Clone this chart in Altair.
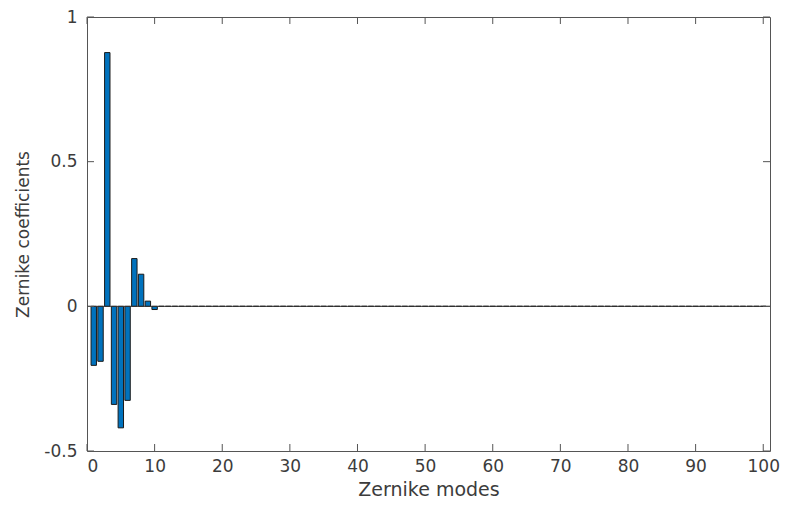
import altair as alt
import pandas as pd

modes = list(range(1, 101))
coeffs_first = [-0.204, -0.19, 0.877, -0.339, -0.42, -0.325, 0.165, 0.111, 0.018, -0.011]
coeffs = coeffs_first + [0.0] * (100 - len(coeffs_first))
x_ticks = [0, 10, 20, 30, 40, 50, 60, 70, 80, 90, 100]
y_ticks = [-0.5, 0, 0.5, 1]

W, H = 683, 434
FONT = "DejaVu Sans"
AX = "#555555"
TXT = "#3c3c3c"

df = pd.DataFrame({"mode": modes, "lo": [m - 0.4 for m in modes], "hi": [m + 0.4 for m in modes], "c": coeffs})
xt = pd.DataFrame({"t": x_ticks})
yt = pd.DataFrame({"t": y_ticks})

xs = alt.Scale(domain=[0, 101], nice=False, zero=False)
ys = alt.Scale(domain=[-0.5, 1], nice=False, zero=False)

bars = alt.Chart(df).mark_bar(color="#0072BD", stroke="#1a1a1a", strokeWidth=1).encode(
    x=alt.X("lo:Q", scale=xs, axis=alt.Axis(values=x_ticks, title="Zernike modes", tickSize=0,
                                             labelPadding=7, titlePadding=6, grid=False, domain=False,
                                             labelFontSize=17, titleFontSize=19)),
    x2="hi:Q",
    y=alt.Y("c:Q", scale=ys, axis=alt.Axis(values=y_ticks, title="Zernike coefficients", tickSize=0,
                                            labelPadding=10, titlePadding=11, grid=False, domain=False,
                                            labelFontSize=17, titleFontSize=17,
                                            labelExpr="datum.value < 0 ? '-' + format(-datum.value, '') : format(datum.value, '')")),
    y2=alt.datum(0),
)

baseline = alt.Chart(pd.DataFrame({"z": [0]})).mark_rule(color="#333333", strokeWidth=1).encode(
    y=alt.Y("z:Q", scale=ys), x=alt.value(0), x2=alt.value(W)
)

tick_len = 7
xb = alt.Chart(xt).mark_rule(color=AX).encode(x=alt.X("t:Q", scale=xs), y=alt.value(H), y2=alt.value(H - tick_len))
xtp = alt.Chart(xt).mark_rule(color=AX).encode(x=alt.X("t:Q", scale=xs), y=alt.value(0), y2=alt.value(tick_len))
yl = alt.Chart(yt).mark_rule(color=AX).encode(y=alt.Y("t:Q", scale=ys), x=alt.value(0), x2=alt.value(tick_len))
yr = alt.Chart(yt).mark_rule(color=AX).encode(y=alt.Y("t:Q", scale=ys), x=alt.value(W), x2=alt.value(W - tick_len))

chart = alt.layer(bars, baseline, xb, xtp, yl, yr).properties(
    width=W, height=H,
    autosize=alt.AutoSizeParams(type="none"),
    padding={"left": 87, "top": 17, "right": 15, "bottom": 54},
    background="white",
).configure_view(stroke=AX, strokeWidth=1).configure_axis(
    labelFont=FONT, titleFont=FONT,
    labelColor=TXT, titleColor=TXT, titleFontWeight="normal",
)

chart.save("out.html", embed_options={"renderer": "svg", "actions": False})
